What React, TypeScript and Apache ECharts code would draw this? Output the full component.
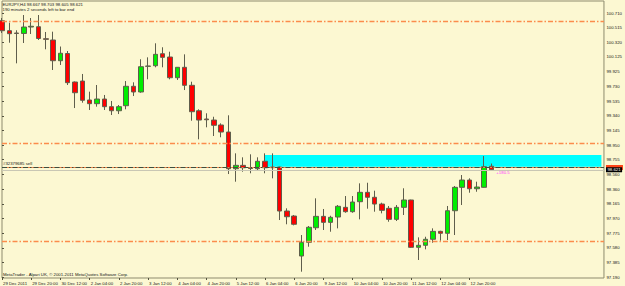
import React, { useEffect, useRef } from 'react';
import * as echarts from 'echarts';

// ---- data ----
const opens = [
  100.607, 100.474, 100.443, 100.437, 100.523, 100.527, 100.367, 100.35, 100.074, 100.17,
  99.79, 99.803, 99.55, 99.501, 99.563, 99.461, 99.407, 99.474, 99.733, 99.657,
  99.999, 100.007, 100.167, 100.123, 99.847, 99.986, 99.746, 99.407, 99.297, 99.283,
  99.217, 99.123, 98.634, 98.679, 98.647, 98.634, 98.733, 98.647, 98.657, 98.07,
  98.003, 97.47, 97.653, 97.847, 97.999, 97.919, 97.99, 98.119, 98.061, 98.194,
  98.319, 98.253, 98.163, 98.106, 97.959, 98.119, 98.217, 97.586, 97.613, 97.693,
  97.799, 97.773, 98.074, 98.386, 98.483, 98.367, 98.386, 98.667,
];
const closes = [
  100.474, 100.434, 100.437, 100.523, 100.533, 100.37, 100.359, 100.074, 100.173, 99.781,
  99.647, 99.546, 99.501, 99.563, 99.461, 99.407, 99.461, 99.733, 99.657, 99.994,
  100.003, 100.159, 100.119, 99.847, 99.986, 99.746, 99.394, 99.283, 99.287, 99.213,
  99.123, 98.634, 98.679, 98.647, 98.637, 98.733, 98.647, 98.657, 98.07, 97.994,
  97.893, 97.653, 97.853, 97.999, 97.919, 97.986, 98.133, 98.061, 98.19, 98.319,
  98.253, 98.163, 98.079, 97.959, 98.119, 98.217, 97.586, 97.613, 97.693, 97.799,
  97.773, 98.074, 98.386, 98.483, 98.367, 98.39, 98.661, 98.621,
];
const lows = [
  100.443, 100.314, 100.039, 100.31, 100.43, 100.35, 100.226, 99.95, 100.017, 99.75,
  99.443, 99.514, 99.417, 99.461, 99.417, 99.35, 99.363, 99.426, 99.603, 99.647,
  99.826, 99.986, 99.986, 99.826, 99.817, 99.683, 99.274, 99.026, 99.186, 99.07,
  99.053, 98.563, 98.461, 98.594, 98.573, 98.607, 98.573, 98.506, 97.95, 97.893,
  97.879, 97.261, 97.594, 97.817, 97.817, 97.794, 97.839, 98.047, 98.047, 97.959,
  98.101, 98.061, 98.039, 97.927, 97.937, 98.017, 97.577, 97.417, 97.559, 97.647,
  97.674, 97.683, 97.75, 98.15, 98.314, 98.327, 98.383, 98.605,
];
const highs = [
  100.643, 100.581, 100.48, 100.683, 100.643, 100.683, 100.457, 100.461, 100.263, 100.203,
  99.797, 99.897, 99.661, 99.75, 99.617, 99.537, 99.483, 99.803, 99.786, 100.093,
  100.119, 100.306, 100.253, 100.194, 99.99, 100.159, 99.794, 99.426, 99.373, 99.327,
  99.239, 99.346, 98.839, 98.786, 98.826, 98.786, 98.839, 98.839, 98.661, 98.106,
  98.017, 97.75, 97.87, 98.239, 98.097, 98.007, 98.15, 98.27, 98.27, 98.439,
  98.447, 98.341, 98.181, 98.137, 98.15, 98.373, 98.221, 97.719, 97.727, 97.839,
  97.807, 98.137, 98.403, 98.55, 98.506, 98.461, 98.803, 98.703,
];

const xTickLabels = [
  '29 Dec 2011', '29 Dec 20:00', '30 Dec 12:00', '2 Jan 04:00', '2 Jan 20:00', '3 Jan 12:00',
  '4 Jan 04:00', '4 Jan 20:00', '5 Jan 12:00', '6 Jan 04:00', '6 Jan 20:00', '9 Jan 12:00',
  '10 Jan 04:00', '10 Jan 20:00', '11 Jan 12:00', '12 Jan 04:00', '12 Jan 20:00',
];
const barsPerTick = 4;
const visibleBars = 82.4;

const yTickLabels = [
  '100.710', '100.515', '100.320', '100.125', '99.925', '99.730', '99.535', '99.340', '99.145',
  '98.950', '98.755', '98.560', '98.360', '98.165', '97.970', '97.775', '97.580', '97.385', '97.190',
];
const yMin = 97.177;
const yMax = 100.87;

const dashLevels = [100.6, 98.965, 97.675];
const orderPrice = 98.663;
const orderText = '#32379685 sell';
const tradePrice = 98.647;
const bidPrice = 98.621;

const zoneFromBar = 36;
const zoneToBar = 82.05;
const zoneLow = 98.661;
const zoneHigh = 98.817;

const profitText = '+180.5';
const profitBar = 67.6;
const profitPrice = 98.586;

const titleLine1 = 'EURJPY,H4 98.667 98.703 98.605 98.621';
const titleLine2 = '190 minutes 2 seconds left to bar end';
const footerText = 'MetaTrader - Alpari UK, \u00a9 2001-2011 MetaQuotes Software Corp.';

// ---- styles ----
const FONT = "'Liberation Sans', Arial, sans-serif";
const FS = 4.3;
const BG = '#fcf8d2';
const BORDER = '#8e8b6e';
const TEXT = '#141414';
const LEVEL_COLOR = '#fb8c4c';

export default function App() {
  const ref = useRef<HTMLDivElement>(null);

  useEffect(() => {
    if (!ref.current) return;
    const chart = echarts.init(ref.current, null, { renderer: 'svg' });

    const candles = opens.map((o, i) => [i, o, closes[i], lows[i], highs[i]]);
    const xTickValues = xTickLabels.map((_, i) => i * barsPerTick);
    const yTickValues = yTickLabels.map((s) => Number(s));
    const dashDot = [5, 2, 1.5, 2];

    const option: any = {
      animation: false,
      backgroundColor: BG,
      textStyle: { fontFamily: FONT },
      grid: {
        left: 1.5,
        right: 18.5,
        top: 1,
        bottom: 8,
        show: true,
        borderColor: BORDER,
        borderWidth: 1,
        backgroundColor: 'transparent',
      },
      xAxis: {
        type: 'value',
        min: 0,
        max: visibleBars,
        axisLine: { show: false },
        splitLine: { show: false },
        axisTick: {
          show: true,
          customValues: xTickValues,
          length: 2,
          lineStyle: { color: '#55533f', width: 1 },
        },
        axisLabel: {
          customValues: xTickValues,
          formatter: (v: number) => xTickLabels[Math.round(v / barsPerTick)] ?? '',
          align: 'left',
          margin: 3,
          padding: [0, 0, 0, 1],
          fontSize: FS,
          fontFamily: FONT,
          color: TEXT,
        },
      },
      yAxis: {
        type: 'value',
        position: 'right',
        min: yMin,
        max: yMax,
        axisLine: { show: false },
        splitLine: { show: false },
        axisTick: {
          show: true,
          customValues: yTickValues,
          length: 2,
          lineStyle: { color: '#55533f', width: 1 },
        },
        axisLabel: {
          customValues: yTickValues,
          formatter: (v: number) => v.toFixed(3),
          margin: 2.5,
          fontSize: FS,
          fontFamily: FONT,
          color: TEXT,
        },
      },
      series: [
        {
          type: 'candlestick',
          data: candles,
          encode: { x: 0, y: [1, 2, 3, 4] },
          barWidth: 5,
          clip: true,
          z: 2,
          itemStyle: {
            color: '#00ee00',
            color0: '#ff0000',
            borderColor: '#5f5e4c',
            borderColor0: '#5f5e4c',
            borderWidth: 1,
          },
        },
        {
          type: 'line',
          data: [],
          z: 3,
          silent: true,
          markArea: {
            silent: true,
            itemStyle: { color: '#00ffff' },
            data: [[{ xAxis: zoneFromBar, yAxis: zoneHigh }, { xAxis: zoneToBar, yAxis: zoneLow }]],
          },
        },
        {
          type: 'line',
          data: [],
          z: 4,
          silent: true,
          markLine: {
            silent: true,
            symbol: ['none', 'none'],
            label: { show: false },
            data: [
              ...dashLevels.map((v) => ({
                yAxis: v,
                lineStyle: { color: LEVEL_COLOR, type: dashDot, width: 1.3 },
                label: { show: false },
              })),
              {
                yAxis: tradePrice,
                lineStyle: { color: '#f08448', type: 'solid', width: 1 },
                label: {
                  show: true,
                  position: 'end',
                  distance: 2,
                  formatter: ' ',
                  width: 16,
                  backgroundColor: '#ff4418',
                  fontSize: FS,
                  fontFamily: FONT,
                  padding: [0.6, 0.5, 0.4, 0.5],
                },
              },
              {
                yAxis: bidPrice,
                lineStyle: { color: '#c9c7b4', type: 'solid', width: 1 },
                label: {
                  show: true,
                  position: 'end',
                  distance: 2,
                  formatter: bidPrice.toFixed(3),
                  backgroundColor: '#000000',
                  color: '#ffffff',
                  fontSize: FS,
                  fontFamily: FONT,
                  padding: [0.6, 1.5, 0.4, 1.5],
                },
              },
              {
                yAxis: orderPrice,
                lineStyle: { color: '#3d4f3f', type: dashDot, width: 1 },
                label: {
                  show: true,
                  position: 'insideStartTop',
                  distance: 1,
                  formatter: orderText,
                  color: TEXT,
                  fontSize: FS,
                  fontFamily: FONT,
                },
              },
            ],
          },
          markPoint: {
            silent: true,
            symbol: 'circle',
            symbolSize: 1,
            itemStyle: { color: 'transparent' },
            data: [
              {
                coord: [profitBar, profitPrice],
                label: {
                  show: true,
                  position: 'right',
                  distance: 0,
                  formatter: profitText,
                  color: '#ff33ff',
                  fontSize: FS,
                  fontFamily: FONT,
                },
              },
            ],
          },
        },
      ],
      graphic: [
        {
          type: 'text',
          left: 2.5,
          top: 2.3,
          silent: true,
          style: {
            text: titleLine1 + '\n' + titleLine2,
            fontSize: FS,
            fontFamily: FONT,
            lineHeight: 4.7,
            fill: TEXT,
          },
        },
        {
          type: 'text',
          left: 3,
          top: 272.2,
          silent: true,
          style: { text: footerText, fontSize: FS, fontFamily: FONT, fill: TEXT },
        },
      ],
    };

    chart.setOption(option);
    return () => chart.dispose();
  }, []);

  return (
    <div
      ref={ref}
      style={{ position: 'fixed', left: 0, top: 0, width: 625, height: 286 }}
    />
  );
}
